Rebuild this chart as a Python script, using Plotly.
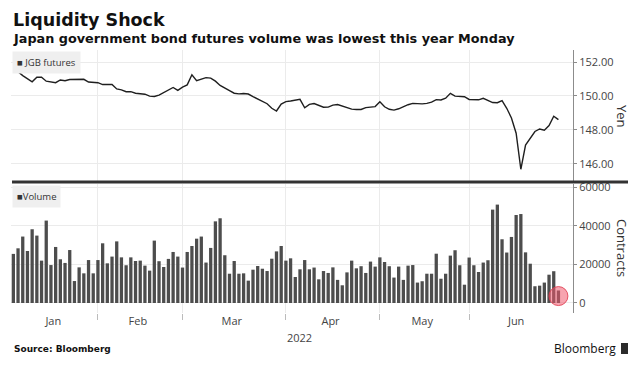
import plotly.graph_objects as go

# ---------------- data ----------------
jgb_futures = [
    151.47, 151.43, 151.20, 151.01, 150.83, 151.10, 151.10, 150.87, 150.82, 150.78,
    150.94, 150.90, 150.97, 150.98, 151.00, 150.98, 150.82, 150.80, 150.78, 150.67,
    150.68, 150.68, 150.41, 150.36, 150.25, 150.25, 150.16, 150.11, 150.10, 149.99,
    149.97, 150.05, 150.19, 150.34, 150.50, 150.33, 150.52, 150.65, 151.25, 150.90,
    150.97, 151.08, 151.05, 150.87, 150.62, 150.44, 150.31, 150.16, 150.12, 150.14,
    150.11, 149.96, 149.81, 149.70, 149.54, 149.27, 149.11, 149.52, 149.66, 149.70,
    149.74, 149.80, 149.30, 149.50, 149.55, 149.43, 149.33, 149.34, 149.46, 149.49,
    149.41, 149.30, 149.22, 149.20, 149.20, 149.31, 149.36, 149.37, 149.66, 149.36,
    149.21, 149.16, 149.24, 149.37, 149.48, 149.56, 149.53, 149.53, 149.56, 149.63,
    149.78, 149.76, 149.87, 150.15, 149.99, 149.99, 149.95, 149.79, 149.80, 149.77,
    149.86, 149.73, 149.61, 149.60, 149.72, 149.27, 148.70, 147.80, 145.67, 147.10,
    147.50, 147.90, 148.05, 147.98, 148.25, 148.80, 148.60,
]

volume = [
    25500, 28400, 34500, 27000, 38300, 35000, 22000, 42800, 19700, 29100,
    22700, 20800, 27500, 11400, 18500, 15400, 22300, 15400, 22300, 31000,
    20600, 24100, 32000, 23700, 19600, 23700, 21800, 22000, 19400, 16800,
    32400, 21700, 18700, 22900, 26500, 24100, 18400, 26500, 29600, 33400,
    34500, 21000, 28600, 42400, 44000, 24800, 15200, 21800, 15200, 15400,
    11600, 17300, 19200, 17800, 16600, 23000, 26800, 29600, 22000, 23200,
    13500, 17500, 22300, 17500, 18400, 12300, 16600, 15600, 18500, 12000,
    9200, 15900, 22000, 18000, 19100, 15600, 21500, 18900, 23700, 21300,
    19100, 13200, 18900, 12000, 19400, 19700, 10600, 11300, 15200, 15200,
    25600, 12600, 15200, 24600, 27400, 19600, 9500, 23600, 19600, 16100,
    21000, 22200, 48500, 51100, 33100, 26200, 34300, 45700, 46200, 26300,
    20400, 8700, 9000, 10600, 14700, 16500, 6500,
]

months = ["Jan", "Feb", "Mar", "Apr", "May", "Jun"]
month_start_idx = [0, 18, 36, 58, 78, 97]     # trading-day index of each month's first session
year_label = "2022"
price_ticks = [146, 148, 150, 152]
volume_ticks = [0, 20000, 40000, 60000]

# ---------------- derived ----------------
x = list(range(len(volume)))
n = len(volume)
ends = month_start_idx[1:] + [n + 1]
label_pos = [(s + e) / 2 - 0.5 for s, e in zip(month_start_idx, ends)]

XR = [-0.5, n + 2.1]
FONT = "Open Sans"
GRID = "#ebebeb"
AXC = "#8c8c8c"
TXT = "#444444"

fig = go.Figure()

fig.add_trace(go.Bar(
    x=x, y=volume, xaxis="x", yaxis="y",
    marker=dict(color="#4d4d4d", line=dict(width=0)),
    width=0.7, showlegend=False, hoverinfo="skip",
))

fig.add_trace(go.Scatter(
    x=x, y=jgb_futures, xaxis="x2", yaxis="y2", mode="lines",
    line=dict(color="#1f1f1f", width=1.4), showlegend=False, hoverinfo="skip",
))

# highlight circle on the last (lowest) volume session
fig.add_trace(go.Scatter(
    x=[x[-1]], y=[3600], xaxis="x", yaxis="y", mode="markers",
    marker=dict(size=19, color="rgba(240,90,110,0.55)",
                line=dict(color="rgba(225,60,80,0.85)", width=1)),
    showlegend=False, hoverinfo="skip",
))

common_x = dict(
    range=XR, showline=False, zeroline=False, showgrid=False,
    tickmode="array", tickvals=label_pos, ticktext=months, ticks="",
)

# The page body has an 8px default margin, so the figure is drawn 8px in
# from the top-left; size/margins below compensate for it.
fig.update_layout(
    width=628, height=365,
    margin=dict(l=3, r=63, t=42, b=60),
    paper_bgcolor="white", plot_bgcolor="white",
    font=dict(family=FONT, color=TXT, size=11),
    xaxis=dict(common_x, anchor="y", domain=[0, 1],
               tickfont=dict(family=FONT, size=11, color=TXT),
               minor=dict(tickmode="array", tickvals=month_start_idx[1:],
                          showgrid=True, gridcolor=GRID, gridwidth=1,
                          ticks="outside", ticklen=6, tickcolor="#bbbbbb")),
    xaxis2=dict(common_x, anchor="y2", domain=[0, 1], matches="x",
                showticklabels=False,
                minor=dict(tickmode="array", tickvals=month_start_idx[1:],
                           showgrid=True, gridcolor=GRID, gridwidth=1, ticks="")),
    yaxis=dict(domain=[0, 0.4905], side="right", anchor="x",
               range=[-5200, 61800], tickmode="array", tickvals=volume_ticks,
               tickformat="d", showgrid=True, gridcolor=GRID, zeroline=False,
               showline=True, linecolor=AXC, linewidth=1,
               ticks="outside", ticklen=3, tickcolor=AXC,
               tickfont=dict(family=FONT, size=11, color=TXT)),
    yaxis2=dict(domain=[0.502, 1], side="right", anchor="x2",
                range=[144.98, 152.71], tickmode="array", tickvals=price_ticks,
                tickformat=".2f", showgrid=True, gridcolor=GRID, zeroline=False,
                showline=True, linecolor=AXC, linewidth=1,
                ticks="outside", ticklen=3, tickcolor=AXC,
                tickfont=dict(family=FONT, size=11, color=TXT)),
)

# thick separator between panels
fig.add_shape(type="line", xref="paper", yref="paper",
              x0=0.0018, x1=1.113, y0=0.498, y1=0.498,
              line=dict(color="#333333", width=3))

# Bloomberg logo icon
fig.add_shape(type="rect", xref="paper", yref="paper",
              x0=(621 - 11) / 562, x1=(631 - 11) / 562,
              y0=(313 - 354) / 263, y1=(313 - 343) / 263,
              line=dict(width=0), fillcolor="#2b2b2b")

ann = [
    dict(text="<b>Liquidity Shock</b>", x=0, y=1.113, xanchor="left", yanchor="middle",
         font=dict(family="DejaVu Sans", size=17.5, color="#111111")),
    dict(text="<b>Japan government bond futures volume was lowest this year Monday</b>",
         x=0, y=1.045, xanchor="left", yanchor="middle",
         font=dict(family="DejaVu Sans", size=12.8, color="#111111")),
    dict(text="■ JGB futures", x=0.0018, y=0.996, xanchor="left", yanchor="top",
         bgcolor="#efefef", borderpad=4,
         font=dict(family=FONT, size=9.5, color="#333333")),
    dict(text="■Volume", x=0.0018, y=0.4885, xanchor="left", yanchor="top",
         bgcolor="#efefef", borderpad=4,
         font=dict(family=FONT, size=9.5, color="#333333")),
    dict(text="Yen", x=(622 - 11) / 562, y=(313 - 116) / 263, xanchor="center",
         yanchor="middle", textangle=90,
         font=dict(family=FONT, size=13, color="#333333")),
    dict(text="Contracts", x=(622 - 11) / 562, y=(313 - 248) / 263, xanchor="center",
         yanchor="middle", textangle=90,
         font=dict(family=FONT, size=13, color="#333333")),
    dict(text=year_label, x=(299 - 11) / 562, y=(313 - 337) / 263, xanchor="center",
         yanchor="middle", font=dict(family=FONT, size=11, color=TXT)),
    dict(text="<b>Source: Bloomberg</b>", x=0.0018, y=(313 - 349) / 263,
         xanchor="left", yanchor="middle",
         font=dict(family="DejaVu Sans", size=9, color="#111111")),
    dict(text="Bloomberg", x=(618 - 11) / 562, y=(313 - 348) / 263,
         xanchor="right", yanchor="middle",
         font=dict(family=FONT, size=12, color="#111111")),
]
for a in ann:
    a.setdefault("xref", "paper")
    a.setdefault("yref", "paper")
    a.setdefault("showarrow", False)
    fig.add_annotation(**a)

fig.write_html("out.html")
